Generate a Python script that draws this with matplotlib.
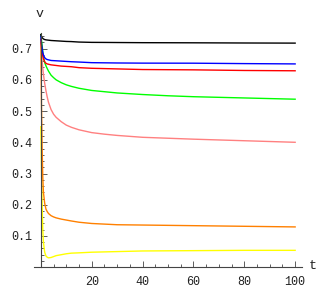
#!/usr/bin/env python3

import numpy as np
import matplotlib
matplotlib.use("Agg")
import matplotlib.pyplot as plt
from matplotlib.ticker import MultipleLocator, FixedLocator


# sample times
t = [0, 0.25, 0.5, 0.75, 1, 1.5, 2, 2.5, 3, 4, 5, 6, 8, 10, 12, 15,
     20, 25, 30, 40, 50, 60, 80, 100]

v_black = [0.745, 0.738, 0.735, 0.733, 0.731, 0.729, 0.728, 0.7275, 0.727,
           0.726, 0.7255, 0.725, 0.724, 0.723, 0.7225, 0.721, 0.720, 0.7198,
           0.7195, 0.719, 0.7188, 0.7186, 0.718, 0.7176]
v_blue = [0.74, 0.715, 0.70, 0.688, 0.68, 0.671, 0.667, 0.665, 0.664,
          0.662, 0.6615, 0.661, 0.660, 0.659, 0.658, 0.657, 0.655, 0.6545,
          0.654, 0.6535, 0.6534, 0.6533, 0.652, 0.651]
v_red = [0.73, 0.705, 0.69, 0.677, 0.668, 0.658, 0.653, 0.651, 0.650,
         0.648, 0.647, 0.646, 0.644, 0.643, 0.642, 0.639, 0.637, 0.636,
         0.635, 0.633, 0.6325, 0.632, 0.630, 0.629]
v_green = [0.745, 0.725, 0.71, 0.69, 0.675, 0.655, 0.645, 0.636, 0.628,
           0.615, 0.607, 0.600, 0.591, 0.584, 0.579, 0.573, 0.566, 0.562,
           0.558, 0.553, 0.549, 0.546, 0.542, 0.538]
v_pink = [0.712, 0.685, 0.66, 0.637, 0.618, 0.589, 0.565, 0.545, 0.528,
          0.505, 0.490, 0.480, 0.466, 0.455, 0.448, 0.440, 0.431, 0.426,
          0.422, 0.416, 0.413, 0.410, 0.405, 0.400]
v_orange = [0.72, 0.52, 0.38, 0.29, 0.24, 0.205, 0.186, 0.178, 0.172,
            0.165, 0.161, 0.158, 0.154, 0.151, 0.148, 0.144, 0.140, 0.138,
            0.136, 0.135, 0.134, 0.133, 0.131, 0.129]
v_yellow = [0.45, 0.32, 0.2, 0.12, 0.08, 0.048, 0.036, 0.032, 0.030,
            0.031, 0.034, 0.037, 0.040, 0.043, 0.045, 0.046, 0.048, 0.049,
            0.050, 0.052, 0.0525, 0.053, 0.054, 0.054]

x_ticks = [20, 40, 60, 80, 100]
y_ticks = [0.1, 0.2, 0.3, 0.4, 0.5, 0.6, 0.7]

series = [
    (v_yellow, '#ffff00'),
    (v_orange, '#ff8000'),
    (v_pink, '#ff8080'),
    (v_green, '#00ff00'),
    (v_red, '#ff0000'),
    (v_blue, '#0000ff'),
    (v_black, '#000000'),
]

font = 'Liberation Mono'
axis_col = '#444444'

fig = plt.figure(figsize=(3.33, 2.91), dpi=100)
ax = fig.add_axes([34/333, 23.8/291, 268/333, 234.2/291])

for vals, col in series:
    ax.plot(t, vals, color=col, lw=1.0)

ax.set_xlim(-2.7, 102.7)
ax.set_ylim(0, 0.75)

ax.spines['top'].set_visible(False)
ax.spines['right'].set_visible(False)
ax.spines['left'].set_position(('data', 0))
for s in ['left', 'bottom']:
    ax.spines[s].set_color(axis_col)
    ax.spines[s].set_linewidth(0.8)

ax.xaxis.set_major_locator(FixedLocator(x_ticks))
ax.xaxis.set_minor_locator(MultipleLocator(5))
ax.yaxis.set_major_locator(FixedLocator(y_ticks))
ax.yaxis.set_minor_locator(MultipleLocator(0.02))
ax.set_yticklabels([f"{y:.1f}" for y in y_ticks])

ax.tick_params(which='both', direction='in', color=axis_col, width=0.6,
               labelsize=8.5, labelcolor='#222222')
ax.tick_params(which='major', length=4)
ax.tick_params(which='minor', length=2)
ax.tick_params(axis='x', pad=6)
ax.tick_params(axis='y', pad=6)
for lab in ax.get_xticklabels() + ax.get_yticklabels():
    lab.set_fontfamily(font)

fig.text(40/333, 1 - 14/291, 'v', family=font, fontsize=9.5,
         ha='center', va='center', color='#222222')
fig.text(313/333, 1 - 266/291, 't', family=font, fontsize=9.5,
         ha='center', va='center', color='#222222')

plt.savefig('out.png', dpi=100)
